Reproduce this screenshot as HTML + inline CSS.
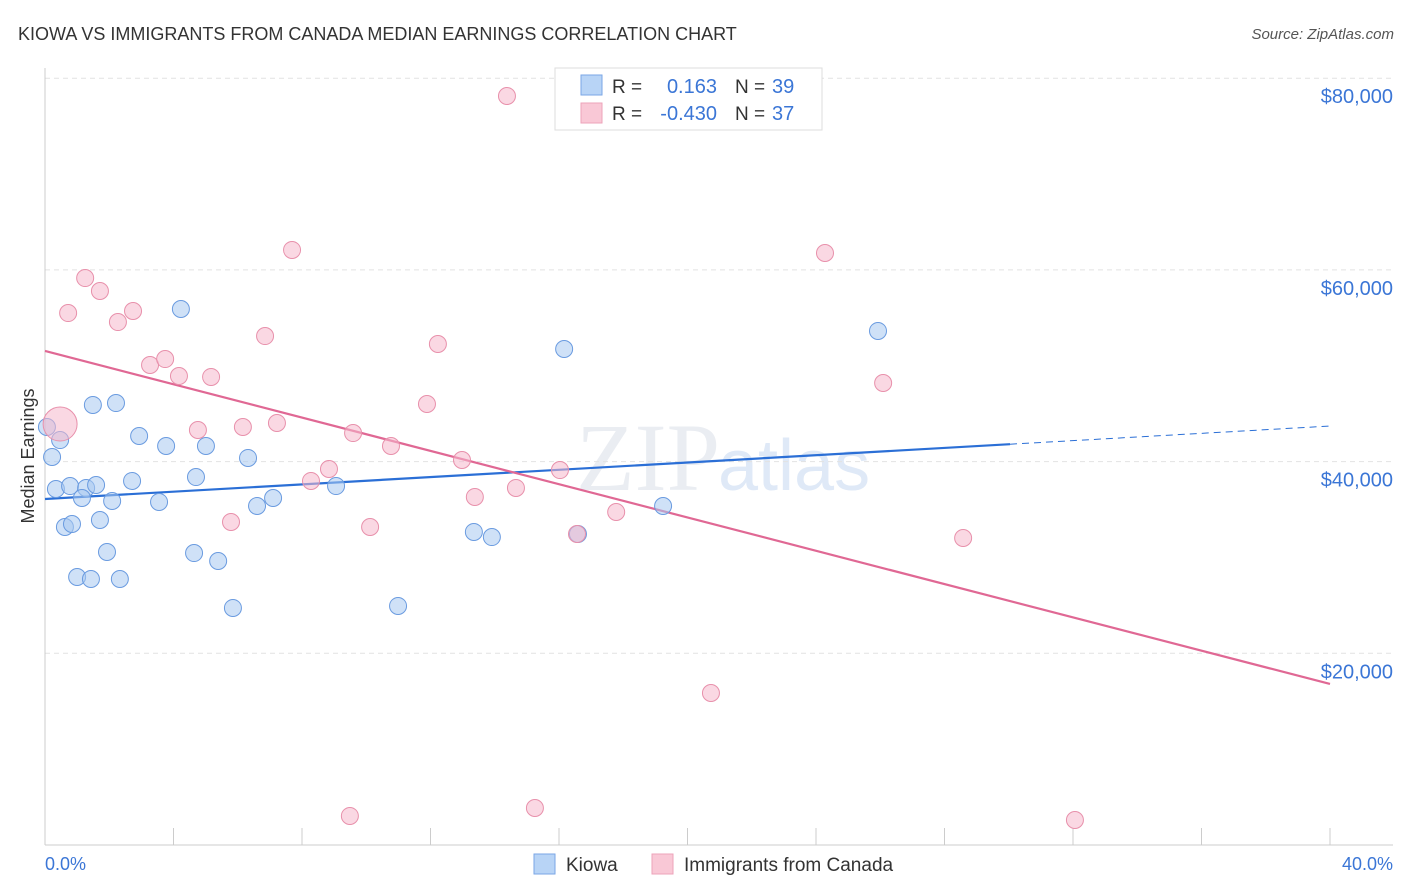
<!DOCTYPE html>
<html><head><meta charset="utf-8"><style>
body{margin:0;background:#fff;font-family:"Liberation Sans",sans-serif;}
svg{display:block}
</style></head><body>
<svg id="c" width="1406" height="892" xmlns="http://www.w3.org/2000/svg">
<text x="18" y="40" font-size="18" fill="#333">KIOWA VS IMMIGRANTS FROM CANADA MEDIAN EARNINGS CORRELATION CHART</text>
<text x="1394" y="39" font-size="15" fill="#555" font-style="italic" text-anchor="end">Source: ZipAtlas.com</text>
<text x="720" y="490" font-size="96" fill="#eaedf2" text-anchor="end" font-family="Liberation Serif">ZIP</text>
<text x="718" y="490" font-size="72" fill="#dfe9f7">atlas</text>
<g id="grid"></g><g id="axes"></g><g id="lines"></g><g id="pts"></g>
<text transform="translate(34,456) rotate(-90)" font-size="18" fill="#333" text-anchor="middle">Median Earnings</text>
<text x="45" y="870" font-size="18" fill="#3b76d6">0.0%</text>
<text x="1393" y="870" font-size="18" fill="#3b76d6" text-anchor="end">40.0%</text>
<g>
<rect x="555" y="68" width="267" height="62" fill="#fff" stroke="#ddd"/>
<rect x="581" y="75" width="21" height="20" fill="#b8d4f6" stroke="#7aa6e6"/>
<rect x="581" y="103" width="21" height="20" fill="#f9c8d6" stroke="#eda3ba"/>
<text x="612" y="93" font-size="19" fill="#333">R =</text>
<text x="717" y="93" font-size="20" fill="#3b76d6" text-anchor="end">0.163</text>
<text x="735" y="93" font-size="19" fill="#333">N =</text><text x="772" y="93" font-size="20" fill="#3b76d6">39</text>
<text x="612" y="120" font-size="19" fill="#333">R =</text>
<text x="717" y="120" font-size="20" fill="#3b76d6" text-anchor="end">-0.430</text>
<text x="735" y="120" font-size="19" fill="#333">N =</text><text x="772" y="120" font-size="20" fill="#3b76d6">37</text>
</g>
<g>
<rect x="534" y="854" width="21" height="20" fill="#b8d4f6" stroke="#7aa6e6"/>
<text x="566" y="871" font-size="19" fill="#333">Kiowa</text>
<rect x="652" y="854" width="21" height="20" fill="#f9c8d6" stroke="#eda3ba"/>
<text x="684" y="871" font-size="19" fill="#333">Immigrants from Canada</text>
</g>
</svg>
<script>
const yTicks=[20000,40000,60000,80000];
const yTickLabels=["$20,000","$40,000","$60,000","$80,000"];
const kiowaX=[0.06,0.47,0.22,0.34,0.78,1.28,1.59,1.15,2.09,0.62,0.84,1.71,1.0,1.43,2.33,1.93,1.49,2.21,2.93,3.77,2.71,3.55,4.23,5.01,4.70,4.64,5.39,5.85,6.32,6.60,7.10,9.06,10.99,13.35,13.91,16.16,16.59,19.24,25.93];
const kiowaY=[43610,42250,40480,37140,37450,37250,37560,36200,35890,33180,33490,33910,27960,27750,27750,30570,45910,46110,42670,41630,37980,35790,55920,41630,38390,30460,29630,24730,40380,35370,36200,37450,24940,32660,32130,51750,32450,35370,53630];
const canadaX=[0.47,1.25,0.72,1.71,2.27,2.74,3.27,3.74,4.17,5.17,4.76,6.16,6.85,7.69,7.22,5.79,8.28,8.84,9.59,10.12,10.77,11.89,12.23,12.98,13.38,14.38,14.66,16.03,16.56,17.78,20.73,24.28,26.09,28.58,9.49,15.25,32.06];
const canadaY=[43920,59150,55500,57800,54560,55710,50080,50700,48930,48830,43300,43610,53100,62080,44030,33700,37980,39230,42980,33180,41630,46010,52270,40170,36310,78140,37250,39120,32450,34740,15860,61760,48200,32030,3030,3860,2610];
const kiowaTrend=[36100,43710];
const canadaTrend=[51540,16800];
const NS="http://www.w3.org/2000/svg";
const X=v=>45+v/40*1285, Y=v=>845-v/20000*191.7;
function mk(p,t,a){const e=document.createElementNS(NS,t);for(const k in a)e.setAttribute(k,a[k]);document.getElementById(p).appendChild(e);return e;}
yTicks.forEach((t,i)=>{
 let l=mk('grid','line',{x1:45,x2:1393,y1:Y(t),y2:Y(t),stroke:'#e2e2e2','stroke-dasharray':'5,4'});
 
 
 let tx=mk('grid','text',{x:1393,y:Y(t)+25,'font-size':20,fill:'#3b76d6','text-anchor':'end'});
 tx.textContent=yTickLabels[i];
 
 
});
mk('axes','line',{x1:45,x2:45,y1:68,y2:845,stroke:'#ccc'});
mk('axes','line',{x1:45,x2:1393,y1:845,y2:845,stroke:'#ccc'});
for(let i=0;i<=10;i++){let t=mk('axes','line',{x1:X(i*4),x2:X(i*4),y1:828,y2:845,stroke:'#ccc'});
 
 }
const xs=X(30.04), ys=Y(kiowaTrend[0]+(kiowaTrend[1]-kiowaTrend[0])*30.04/40);
let b1=mk('lines','line',{x1:X(0),y1:Y(kiowaTrend[0]),x2:xs,y2:ys,stroke:'#2b6fd6','stroke-width':2.2});


let b2=mk('lines','line',{x1:xs,y1:ys,x2:X(40),y2:Y(kiowaTrend[1]),stroke:'#2b6fd6','stroke-width':1,'stroke-dasharray':'7,5'});


let p1=mk('lines','line',{x1:X(0),y1:Y(canadaTrend[0]),x2:X(40),y2:Y(canadaTrend[1]),stroke:'#e06894','stroke-width':2.2});


kiowaX.forEach((x,i)=>{let c=mk('pts','circle',{cx:X(x),cy:Y(kiowaY[i]),r:8.5,fill:'rgba(168,200,240,0.55)',stroke:'#6a9be0','stroke-width':1});
 
 });
canadaX.forEach((x,i)=>{let c=mk('pts','circle',{cx:X(x),cy:Y(canadaY[i]),r:i==0?17:8.5,fill:'rgba(245,184,204,0.55)',stroke:'#e890ab','stroke-width':1});
 
 });
</script>
</body></html>
